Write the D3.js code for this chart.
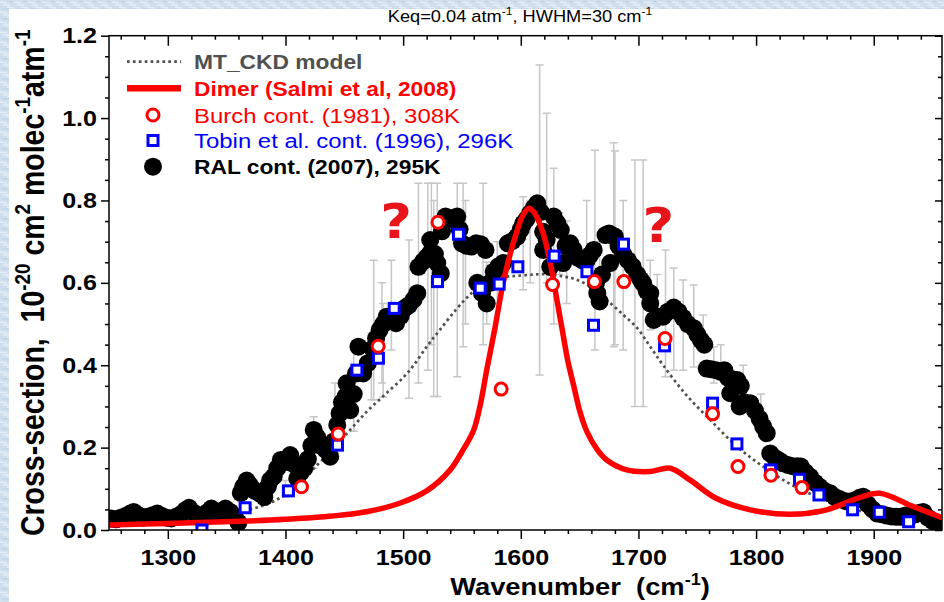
<!DOCTYPE html>
<html>
<head>
<meta charset="utf-8">
<script src="https://cdn.jsdelivr.net/npm/d3@7"></script>
<style>
  html, body { margin: 0; padding: 0; background: #d2e1ee; }
  svg { display: block; }
  text { font-family: "Liberation Sans", Arial, Helvetica, sans-serif; }
</style>
</head>
<body>
<svg id="chart" width="944" height="602"></svg>
<script>
// ---- Data -------------------------------------------------------------
// MT_CKD continuum model: [wavenumber cm-1, cross-section 1e-20 cm2 molec-1 atm-1]
const mtckd = [
  [1250,0.012],[1280,0.016],[1310,0.022],[1340,0.032],[1370,0.050],[1390,0.070],
  [1410,0.105],[1423,0.146],[1440,0.195],[1455,0.243],[1470,0.290],[1485,0.330],
  [1500,0.370],[1509,0.400],[1520,0.445],[1531,0.485],[1545,0.535],[1557,0.572],
  [1571,0.603],[1585,0.614],[1597,0.617],[1610,0.620],[1619,0.621],[1635,0.616],
  [1648,0.607],[1662,0.585],[1676,0.551],[1688,0.520],[1699,0.490],[1710,0.445],
  [1721,0.400],[1740,0.330],[1761,0.267],[1784,0.202],[1806,0.154],[1830,0.110],
  [1860,0.072],[1890,0.045],[1920,0.028],[1958,0.016]
];

// Water dimer band (Salmi et al, 2008)
const dimer = [
  [1250,0.012],[1300,0.016],[1361,0.021],[1400,0.026],[1440,0.034],[1470,0.045],
  [1497,0.065],[1520,0.095],[1540,0.146],[1550,0.190],[1560,0.243],[1566,0.310],
  [1571,0.388],[1578,0.490],[1585,0.600],[1591,0.670],[1597,0.728],[1602,0.765],
  [1607,0.781],[1612,0.768],[1619,0.720],[1625,0.650],[1630,0.570],[1635,0.490],
  [1640,0.410],[1645,0.350],[1650,0.290],[1656,0.240],[1665,0.195],[1673,0.170],
  [1690,0.146],[1710,0.142],[1727,0.150],[1744,0.121],[1766,0.077],[1795,0.049],
  [1829,0.038],[1860,0.049],[1886,0.077],[1905,0.089],[1931,0.060],[1958,0.030]
];

// Burch continuum (1981), 308K
const burch = [
  [1413.6,0.105],[1444.8,0.233],[1478.8,0.446],[1529.6,0.747],[1583.3,0.342],
  [1627.0,0.596],[1662.6,0.603],[1687.6,0.603],[1722.6,0.465],[1763.0,0.282],
  [1784.6,0.154],[1812.6,0.133],[1839.0,0.103]
];

// Tobin et al. continuum (1996), 296K
const tobin = [
  [1329.0,0.000],[1365.7,0.054],[1402.5,0.095],[1444.2,0.206],[1460.7,0.388],
  [1479.0,0.417],[1492.4,0.538],[1529.2,0.603],[1547.0,0.718],[1565.5,0.587],
  [1581.6,0.597],[1597.5,0.639],[1628.4,0.665],[1656.2,0.627],[1661.8,0.497],
  [1687.3,0.694],[1722.2,0.447],[1763.0,0.308],[1783.7,0.209],[1812.3,0.146],
  [1836.9,0.123],[1853.4,0.085],[1882.0,0.049],[1904.7,0.043],[1929.6,0.020]
];

// RAL continuum (2007), 295K
const ral = [
  [1252,0.028],[1256,0.026],[1260,0.030],[1264,0.034],[1268,0.040],[1271,0.044],
  [1275,0.036],[1279,0.030],[1283,0.032],[1287,0.036],[1291,0.040],[1295,0.034],
  [1299,0.030],[1303,0.028],[1307,0.032],[1311,0.038],[1315,0.048],[1318,0.054],
  [1322,0.042],[1326,0.032],[1330,0.028],[1334,0.044],[1337,0.052],[1341,0.044],
  [1345,0.040],[1349,0.052],[1353,0.044],[1357,0.032],[1360,0.018],
  [1362,0.090],[1364,0.105],[1367,0.120],[1370,0.108],[1374,0.095],[1378,0.089],
  [1382,0.080],[1385,0.105],[1387,0.121],[1390,0.130],[1393,0.150],[1396,0.170],
  [1400,0.165],[1404,0.182],[1407,0.160],[1410,0.125],[1413,0.140],[1416,0.150],
  [1419,0.172],[1422,0.205],[1424,0.243],[1427,0.225],[1430,0.205],[1434,0.195],
  [1438,0.178],[1441,0.215],[1444,0.255],[1446,0.283],[1448,0.310],[1451,0.324],
  [1452,0.356],[1455,0.291],
  [1458,0.330],[1460,0.380],[1462,0.445],[1466,0.380],[1470,0.405],[1474,0.440],
  [1477,0.465],[1480,0.486],[1483,0.500],[1486,0.518],[1490,0.510],[1494,0.502],
  [1498,0.520],[1502,0.540],[1505,0.546],[1509,0.560],[1512,0.575],[1513,0.639],
  [1517,0.652],[1520,0.662],[1523,0.672],[1523,0.704],[1527,0.670],[1529,0.648],
  [1532,0.623],[1533,0.725],[1536,0.761],[1540,0.755],[1543,0.758],[1546,0.761],
  [1548,0.730],[1550,0.696],
  [1554,0.690],[1558,0.688],[1562,0.696],[1566,0.694],[1570,0.680],[1563,0.600],
  [1567,0.575],[1571,0.550],[1574,0.600],[1577,0.627],[1581,0.640],[1585,0.648],
  [1589,0.696],[1593,0.702],[1597,0.712],[1600,0.730],[1602,0.744],[1605,0.755],
  [1608,0.769],[1611,0.782],[1614,0.793],[1617,0.772],[1619,0.724],[1622,0.705],
  [1619,0.680],[1625,0.639],[1628,0.761],[1631,0.745],[1634,0.728],[1636,0.648],
  [1638,0.690],[1642,0.696],[1645,0.680],
  [1648,0.662],[1652,0.655],[1656,0.655],[1659,0.668],[1662,0.680],[1664,0.600],
  [1665,0.575],[1667,0.555],[1669,0.620],[1672,0.716],[1675,0.720],[1678,0.715],
  [1680,0.712],[1676,0.648],[1683,0.690],[1687,0.670],[1691,0.655],[1695,0.640],
  [1699,0.620],[1702,0.607],[1704,0.599],
  [1707,0.580],[1710,0.550],[1710,0.575],[1713,0.510],[1717,0.518],[1721,0.518],
  [1725,0.530],[1730,0.540],[1734,0.530],[1738,0.515],[1742,0.500],[1747,0.490],
  [1750,0.475],[1753,0.461],[1756,0.450],[1758,0.392],[1762,0.390],[1766,0.388],
  [1770,0.384],[1773,0.388],
  [1776,0.370],[1780,0.366],[1784,0.364],[1787,0.350],[1778,0.332],[1786,0.300],
  [1790,0.310],[1795,0.308],[1799,0.290],[1803,0.270],[1806,0.251],[1809,0.235],
  [1812,0.186],[1816,0.175],[1820,0.168],[1823,0.162],[1827,0.158],[1831,0.155],
  [1835,0.155],[1838,0.154],[1842,0.140],[1846,0.129],[1850,0.115],[1854,0.105],
  [1858,0.095],[1863,0.089],
  [1867,0.080],[1871,0.075],[1876,0.070],[1880,0.069],[1884,0.072],[1888,0.078],
  [1891,0.081],[1895,0.062],[1899,0.050],[1903,0.040],[1907,0.038],[1911,0.035],
  [1915,0.033],[1919,0.032],[1923,0.032],[1927,0.035],[1931,0.033],[1935,0.038],
  [1939,0.042],[1942,0.044],[1946,0.030],[1950,0.022],[1954,0.016],[1958,0.015]
];

// RAL uncertainty ranges: [wavenumber, low, high]
const ralErr = [
  [1400,0.080,0.120],[1424,0.150,0.275],[1442,0.243,0.357],[1458,0.240,0.450],
  [1473,0.316,0.478],[1475,0.316,0.655],[1482,0.357,0.600],[1483,0.323,0.550],
  [1490,0.437,0.655],[1505,0.320,0.704],[1513,0.357,0.842],[1521,0.388,0.842],
  [1524,0.450,0.842],[1526,0.324,0.800],[1529,0.324,0.842],[1546,0.372,0.842],
  [1551,0.445,0.842],[1553,0.500,0.800],[1568,0.450,0.842],[1571,0.500,0.650],
  [1580,0.550,0.700],[1602,0.583,0.809],[1608,0.600,0.800],[1616,0.376,1.129],
  [1622,0.600,1.012],[1628,0.500,0.878],[1633,0.620,0.770],[1639,0.550,0.750],
  [1656,0.620,0.800],[1663,0.437,0.922],[1667,0.550,0.700],[1679,0.445,0.940],
  [1680,0.450,0.920],[1687,0.437,0.800],[1697,0.300,0.898],[1704,0.300,0.898],
  [1710,0.486,0.655],[1716,0.520,0.620],[1723,0.372,0.680],[1730,0.388,0.636],
  [1738,0.388,0.607],[1747,0.396,0.595],[1755,0.445,0.522],[1764,0.357,0.445],
  [1770,0.400,0.450],[1789,0.330,0.400],[1804,0.250,0.330]
];

// Axis ticks
const xMajorTicks = [1300, 1400, 1500, 1600, 1700, 1800, 1900];
const xMinorTicks = d3.range(1260, 1960, 20).filter(v => v % 100 !== 0);
const yMajorTicks = [0.0, 0.2, 0.4, 0.6, 0.8, 1.0, 1.2];
const yMinorTicks = d3.range(0.05, 1.2, 0.05).filter(v => Math.abs(v * 5 - Math.round(v * 5)) > 1e-6);

// Question marks over the unexplained shoulders: [wavenumber, value at baseline]
const questionMarks = [[1494, 0.709], [1717, 0.700]];

// ---- Layout -----------------------------------------------------------
const W = 944, H = 602;
const plot = { left: 109, right: 942, top: 35.7, bottom: 530 };
const textAspect = 1.14; // horizontal stretch of all lettering

const svg = d3.select("#chart");

// slide background with a faint woven texture, then the white figure panel
const defs = svg.append("defs");
const pat = defs.append("pattern").attr("id", "weave")
  .attr("width", 14).attr("height", 10).attr("patternUnits", "userSpaceOnUse");
pat.append("rect").attr("width", 14).attr("height", 10).attr("fill", "#cfdfed");
pat.append("path").attr("d", "M0 2 L7 3 M7 7 L14 8 M3 5 L10 5").attr("stroke", "#e3edf6").attr("stroke-width", 1.4);
pat.append("path").attr("d", "M2 9 L9 9 M9 1 L13 2").attr("stroke", "#bcd1e4").attr("stroke-width", 1);
svg.append("rect").attr("width", W).attr("height", H).attr("fill", "url(#weave)");
svg.append("rect").attr("x", 9).attr("y", 9).attr("width", W - 9).attr("height", H - 9).attr("fill", "#fff");

defs.append("clipPath").attr("id", "plotClip").append("rect")
  .attr("x", plot.left).attr("y", plot.top)
  .attr("width", plot.right - plot.left).attr("height", plot.bottom - plot.top);

const x = d3.scaleLinear().domain([1250, 1958]).range([plot.left, plot.right]);
const y = d3.scaleLinear().domain([0, 1.2]).range([plot.bottom, plot.top]);

// Stretch a text element horizontally about its anchor point
function stretchText(sel) {
  sel.each(function () {
    const t = d3.select(this);
    const tx = +t.attr("x") || 0, ty = +t.attr("y") || 0;
    t.attr("x", 0).attr("y", 0)
      .attr("transform", `translate(${tx},${ty}) scale(${textAspect},1)`);
  });
}

// Append tspans, raising the ones flagged as superscripts
function richText(sel, parts, size) {
  parts.forEach((p, i) => {
    const ts = sel.append("tspan").text(p.t);
    if (p.sup) ts.attr("font-size", size * 0.66).attr("dy", -size * 0.42);
    else if (i > 0 && parts[i - 1].sup) ts.attr("dy", size * 0.42);
  });
}

// ---- Plot contents ----------------------------------------------------
const body = svg.append("g").attr("clip-path", "url(#plotClip)");

// error bars
const eb = body.append("g").attr("stroke", "#c6c6c6").attr("stroke-width", 1.5).attr("fill", "none");
eb.selectAll("path").data(ralErr).join("path")
  .attr("d", d => {
    const cx = x(d[0]), y0 = y(d[1]), y1 = y(d[2]);
    return `M${cx},${y0}V${y1}M${cx - 4},${y0}H${cx + 4}M${cx - 4},${y1}H${cx + 4}`;
  });

// MT_CKD model (dotted)
const smooth = d3.line().x(d => x(d[0])).y(d => y(d[1])).curve(d3.curveCatmullRom.alpha(0.5));
body.append("path").datum(mtckd)
  .attr("d", smooth).attr("fill", "none")
  .attr("stroke", "#505050").attr("stroke-width", 2.7).attr("stroke-dasharray", "2.7,3.2");

// RAL continuum
body.append("g").selectAll("circle").data(ral).join("circle")
  .attr("cx", d => x(d[0])).attr("cy", d => y(d[1])).attr("r", 9).attr("fill", "#000");

// Dimer band
body.append("path").datum(dimer)
  .attr("d", smooth).attr("fill", "none")
  .attr("stroke", "#ff0000").attr("stroke-width", 5.5).attr("stroke-linejoin", "round");

// Tobin squares
body.append("g").selectAll("rect").data(tobin).join("rect")
  .attr("x", d => x(d[0]) - 5).attr("y", d => y(d[1]) - 5)
  .attr("width", 10).attr("height", 10)
  .attr("fill", "#fff").attr("stroke", "#0000ff").attr("stroke-width", 3);

// Burch circles
body.append("g").selectAll("circle").data(burch).join("circle")
  .attr("cx", d => x(d[0])).attr("cy", d => y(d[1])).attr("r", 6)
  .attr("fill", "#fff").attr("stroke", "#ff0000").attr("stroke-width", 3);

// question marks
svg.append("g").selectAll("text").data(questionMarks).join("text")
  .attr("x", d => x(d[0])).attr("y", d => y(d[1]))
  .attr("text-anchor", "middle")
  .style("font-family", "'DejaVu Sans', sans-serif")
  .attr("font-weight", "bold").attr("font-size", 48).attr("fill", "#e8141b")
  .text("?")
  .call(stretchText);

// ---- Axes & frame -----------------------------------------------------
function styleAxis(g) {
  g.select(".domain").remove();
  g.selectAll(".tick line").attr("stroke", "#000").attr("stroke-width", 1.5);
}

const xAxisB = svg.append("g").attr("transform", `translate(0,${plot.bottom})`)
  .call(d3.axisBottom(x).tickValues(xMajorTicks).tickSize(9).tickPadding(10).tickFormat(d3.format("d")))
  .call(styleAxis);
svg.append("g").attr("transform", `translate(0,${plot.bottom})`)
  .call(d3.axisBottom(x).tickValues(xMinorTicks).tickSize(4).tickFormat(""))
  .call(styleAxis);
svg.append("g").attr("transform", `translate(0,${plot.top})`)
  .call(d3.axisTop(x).tickValues(xMajorTicks).tickSize(-10).tickFormat(""))
  .call(styleAxis);
svg.append("g").attr("transform", `translate(0,${plot.top})`)
  .call(d3.axisTop(x).tickValues(xMinorTicks).tickSize(-4).tickFormat(""))
  .call(styleAxis);

const yAxisL = svg.append("g").attr("transform", `translate(${plot.left},0)`)
  .call(d3.axisLeft(y).tickValues(yMajorTicks).tickSize(8).tickPadding(4).tickFormat(d3.format(".1f")))
  .call(styleAxis);
svg.append("g").attr("transform", `translate(${plot.left},0)`)
  .call(d3.axisLeft(y).tickValues(yMinorTicks).tickSize(4).tickFormat(""))
  .call(styleAxis);
svg.append("g").attr("transform", `translate(${plot.right},0)`)
  .call(d3.axisRight(y).tickValues(yMajorTicks).tickSize(-7).tickFormat(""))
  .call(styleAxis);
svg.append("g").attr("transform", `translate(${plot.right},0)`)
  .call(d3.axisRight(y).tickValues(yMinorTicks).tickSize(-4).tickFormat(""))
  .call(styleAxis);

[xAxisB, yAxisL].forEach(g => {
  g.selectAll(".tick text")
    .attr("fill", "#000").attr("font-size", 22).attr("font-weight", "bold")
    .style("font-family", "'Liberation Sans', Arial, sans-serif")
    .call(stretchText);
});

svg.append("rect")
  .attr("x", plot.left).attr("y", plot.top)
  .attr("width", plot.right - plot.left).attr("height", plot.bottom - plot.top)
  .attr("fill", "none").attr("stroke", "#000").attr("stroke-width", 1.5);

// ---- Titles -----------------------------------------------------------
const title = svg.append("text").attr("x", 520).attr("y", 22)
  .attr("text-anchor", "middle").attr("font-size", 16).attr("fill", "#000");
richText(title, [{ t: "Keq=0.04 atm" }, { t: "-1", sup: true }, { t: ", HWHM=30 cm" }, { t: "-1", sup: true }], 16);
title.call(stretchText);

const xLabel = svg.append("text").attr("x", 580).attr("y", 595)
  .attr("text-anchor", "middle").attr("font-size", 24).attr("font-weight", "bold").attr("fill", "#000");
richText(xLabel, [{ t: "Wavenumber\u00a0\u00a0(cm" }, { t: "-1", sup: true }, { t: ")" }], 24);
xLabel.call(stretchText);

const yLabel = svg.append("text")
  .attr("transform", `translate(44,${(plot.top + plot.bottom) / 2}) rotate(-90) scale(1,${textAspect})`)
  .attr("text-anchor", "middle").attr("font-size", 28.5).attr("font-weight", "bold").attr("fill", "#000");
richText(yLabel, [
  { t: "Cross-section,\u00a0\u00a010" }, { t: "-20", sup: true }, { t: " cm" }, { t: "2", sup: true },
  { t: " molec" }, { t: "-1", sup: true }, { t: "atm" }, { t: "-1", sup: true }
], 28.5);

// ---- Legend -----------------------------------------------------------
const legendItems = [
  { label: "MT_CKD model", kind: "dotted", color: "#505050", bold: true },
  { label: "Dimer (Salmi et al, 2008)", kind: "line", color: "#ff0000", bold: true },
  { label: "Burch cont. (1981), 308K", kind: "circle", color: "#ff0000", bold: false },
  { label: "Tobin et al. cont. (1996), 296K", kind: "square", color: "#0000ff", bold: false },
  { label: "RAL cont. (2007), 295K", kind: "dot", color: "#000", bold: true }
];
const legendRows = [61.7, 88.3, 115, 140.5, 166.7];
const legend = svg.append("g");
legendItems.forEach((it, i) => {
  const ly = legendRows[i];
  const g = legend.append("g");
  if (it.kind === "dotted") {
    g.append("line").attr("x1", 127).attr("x2", 181).attr("y1", ly).attr("y2", ly)
      .attr("stroke", it.color).attr("stroke-width", 2.7).attr("stroke-dasharray", "2.7,3.2");
  } else if (it.kind === "line") {
    g.append("line").attr("x1", 127).attr("x2", 181).attr("y1", ly).attr("y2", ly)
      .attr("stroke", it.color).attr("stroke-width", 6.5);
  } else if (it.kind === "circle") {
    g.append("circle").attr("cx", 153).attr("cy", ly).attr("r", 6)
      .attr("fill", "#fff").attr("stroke", it.color).attr("stroke-width", 3);
  } else if (it.kind === "square") {
    g.append("rect").attr("x", 148).attr("y", ly - 5).attr("width", 10).attr("height", 10)
      .attr("fill", "#fff").attr("stroke", it.color).attr("stroke-width", 3);
  } else {
    g.append("circle").attr("cx", 153).attr("cy", ly).attr("r", 9).attr("fill", it.color);
  }
  const fs = it.bold ? 20 : 21;
  g.append("text").attr("x", 194).attr("y", ly + fs * 0.36)
    .attr("font-size", fs).attr("font-weight", it.bold ? "bold" : "normal")
    .attr("fill", it.color).text(it.label)
    .call(stretchText);
});
</script>
</body>
</html>
